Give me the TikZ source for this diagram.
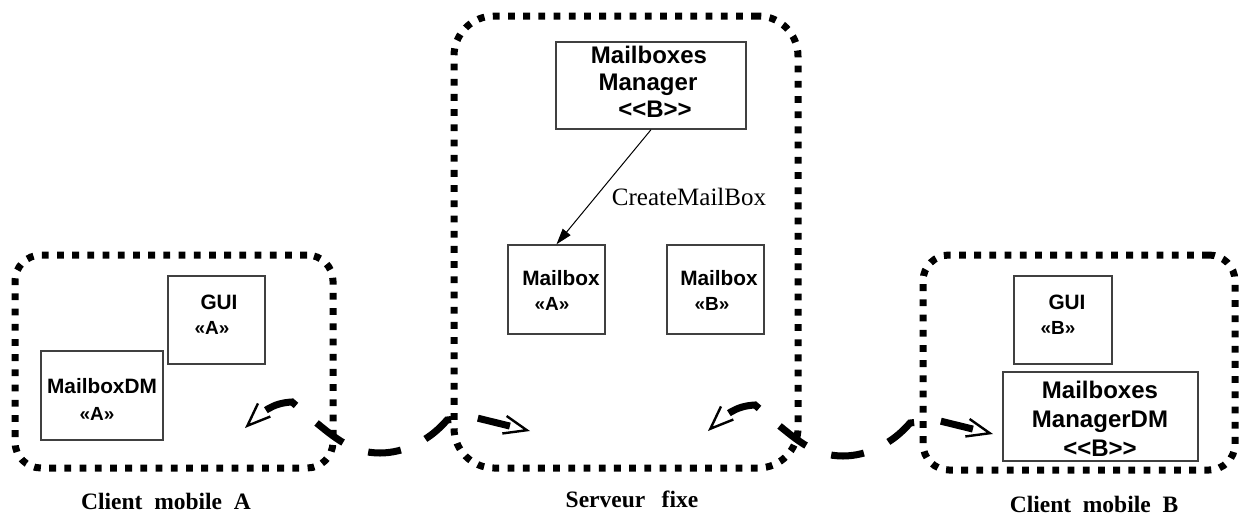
\documentclass[tikz,border=0pt]{standalone}
\usepackage{fontspec}
\setmainfont{Liberation Serif}
\newfontfamily\uisans{Liberation Sans}
\usetikzlibrary{arrows.meta}

\begin{document}
\begin{tikzpicture}[x=0.5pt,y=-0.5pt,
  frame/.style={draw, line width=3.5pt, dash pattern=on 3.4pt off 4.2pt,
    rounded corners=#1, inner sep=0pt},
  comp/.style={draw=black!75, line width=0.7pt, inner sep=0pt},
  big/.style={font=\fontsize{12}{13.5}\selectfont\uisans\bfseries, inner sep=0pt, anchor=base},
  mid/.style={font=\fontsize{10.4}{12}\selectfont\uisans\bfseries, inner sep=0pt, anchor=base},
  ster/.style={font=\fontsize{9.5}{11}\selectfont\uisans\bfseries, inner sep=0pt, anchor=base},
  caption/.style={font=\fontsize{11.75}{14}\selectfont\bfseries, inner sep=0pt, anchor=base},
  msg/.style={font=\fontsize{12.5}{14}\selectfont, inner sep=0pt, anchor=base},
  call/.style={line width=0.5pt, -{Triangle[length=8pt,width=5pt]}},
  link/.style={line width=3.5pt, dash pattern=on 16.5pt off 13.5pt, dash phase=18.5pt,
    >={Straight Barb[length=11.5pt,width=9pt,line width=1.2pt]}, <->},
]
\useasboundingbox (0,0) rectangle (1239,515);

% containers
\node[frame=13pt, minimum width=159pt, minimum height=106.5pt] (cA) at (174,361.5) {};
\node[frame=20pt, minimum width=172pt, minimum height=226pt] (cS) at (626,242) {};
\node[frame=13pt, minimum width=156pt, minimum height=107.5pt] (cB) at (1079,362.5) {};

% client A
\node[comp, minimum width=48.5pt, minimum height=44pt] (guiA) at (216.5,320) {};
\node[mid] (guiAt) at (219,309) {GUI};
\node[ster] (guiAs) at (212,334) {«A»};
\node[comp, minimum width=61pt, minimum height=44.5pt] (dmA) at (102,395.5) {};
\node[mid] (dmAt) at (102,393) {MailboxDM};
\node[ster] (dmAs) at (97,420) {«A»};

% server
\node[comp, minimum width=95pt, minimum height=43.5pt] (mgr) at (651,85.5) {};
\node[big] (mgr1) at (649,63) {Mailboxes};
\node[big] (mgr2) at (648,90) {Manager};
\node[big] (mgr3) at (655,117) {<<B>>};
\node[comp, minimum width=48.5pt, minimum height=44.5pt] (mbA) at (556.5,289.5) {};
\node[mid] (mbAt) at (561,285) {Mailbox};
\node[ster] (mbAs) at (552,310) {«A»};
\node[comp, minimum width=48.5pt, minimum height=44.5pt] (mbB) at (715.5,289.5) {};
\node[mid] (mbBt) at (719,285) {Mailbox};
\node[ster] (mbBs) at (712,310) {«B»};
\draw[call] (mgr.south) -- (mbA.north);
\node[msg] (create) at (689,205) {CreateMailBox};

% client B
\node[comp, minimum width=49pt, minimum height=44pt] (guiB) at (1063,320) {};
\node[mid] (guiBt) at (1067,309) {GUI};
\node[ster] (guiBs) at (1058,334) {«B»};
\node[comp, minimum width=97.5pt, minimum height=44.5pt] (dmB) at (1100.5,416.5) {};
\node[big] (dmB1) at (1100,398) {Mailboxes};
\node[big] (dmB2) at (1100,427) {ManagerDM};
\node[big] (dmB3) at (1100,456) {<<B>>};

% captions
\node[caption] (capA) at (166,509) {Client\ \ mobile\ \ A};
\node[caption] (capS) at (632,507) {Serveur\hspace{0.7em}fixe};
\node[caption] (capB) at (1094,512) {Client\ \ mobile\ \ B};

% links between client A and the server
\coordinate (aTip) at (245,428);
\coordinate (aK1) at (292,402);
\coordinate (aK2) at (313,420);
\coordinate (aMid) at (380,453);
\coordinate (aK3) at (447,420);
\coordinate (aK4) at (473,417);
\coordinate (sTipA) at (530,431);
\draw[link] (aTip) .. controls (262,412) and (272,403) .. (aK1) -- (aK2)
  .. controls (335,438) and (352,453) .. (aMid)
  .. controls (405,453) and (430,440) .. (aK3) -- (aK4) -- (sTipA);

% links between the server and client B
\begin{scope}[shift={(463,3)}]
\coordinate (sTipB) at (245,428);
\coordinate (bK1) at (292,402);
\coordinate (bK2) at (313,420);
\coordinate (bMid) at (380,453);
\coordinate (bK3) at (447,420);
\coordinate (bK4) at (473,417);
\coordinate (bTip) at (530,431);
\draw[link] (sTipB) .. controls (262,412) and (272,403) .. (bK1) -- (bK2)
  .. controls (335,438) and (352,453) .. (bMid)
  .. controls (405,453) and (430,440) .. (bK3) -- (bK4) -- (bTip);
\end{scope}
\end{tikzpicture}
\end{document}
